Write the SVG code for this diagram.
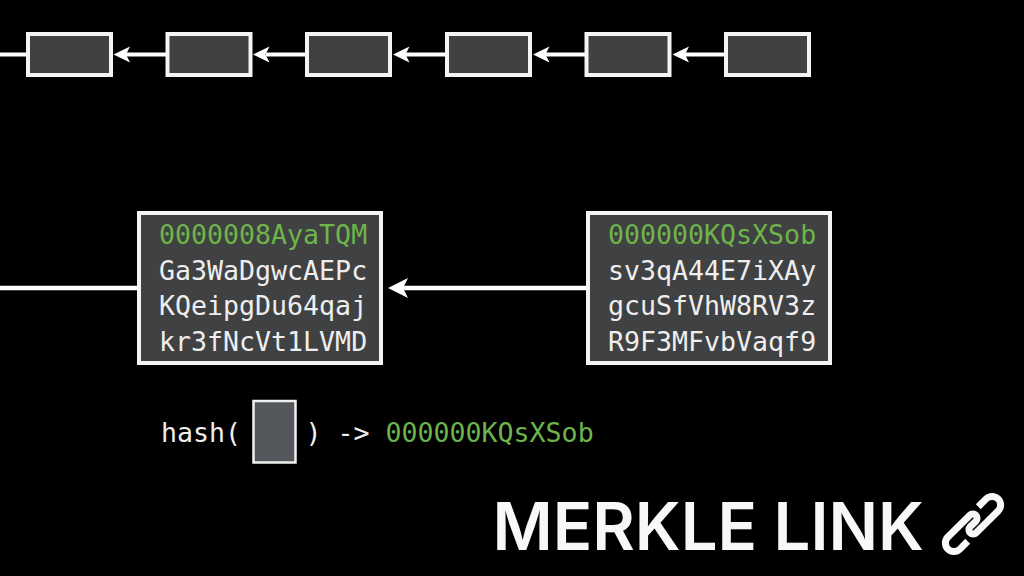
<svg xmlns="http://www.w3.org/2000/svg" width="1024" height="576" viewBox="0 0 1024 576">
<style>
.b{fill:#404142;stroke:#f4f4f4;stroke-width:4}
.l{fill:none;stroke:#fff;stroke-linecap:butt}
.m{font-family:"DejaVu Sans Mono",monospace;font-size:26.6px;fill:#eeeeee}
.g{fill:#6db54a}
.a{fill:#fff}
</style>
<rect width="1024" height="576" fill="#000"/>
<g id="connectors">
<path class="l" stroke-width="4" d="M0 54.500H27M126 54.500H167M266 54.500H306M405 54.500H446M545 54.500H585M685 54.500H725"/>
<g class="a">
<path d="M113.500 54.500L130 46.500L126 54.500L130 62.500Z"/>
<path d="M253 54.500L269.500 46.500L265.500 54.500L269.500 62.500Z"/>
<path d="M393 54.500L409.500 46.500L405.500 54.500L409.500 62.500Z"/>
<path d="M533 54.500L549.500 46.500L545.500 54.500L549.500 62.500Z"/>
<path d="M672.500 54.500L689 46.500L685 54.500L689 62.500Z"/>
</g>
<path class="l" stroke-width="4.500" d="M0 288H139M402 288H587"/>
<path class="a" d="M388 288L408 278L403 288L408 298Z"/>
</g>
<g id="n1"><rect class="b" x="28" y="34" width="83" height="41"/></g>
<g id="n2"><rect class="b" x="167.500" y="34" width="83" height="41"/></g>
<g id="n3"><rect class="b" x="307" y="34" width="83" height="41"/></g>
<g id="n4"><rect class="b" x="447" y="34" width="83" height="41"/></g>
<g id="n5"><rect class="b" x="586.500" y="34" width="83" height="41"/></g>
<g id="n6"><rect class="b" x="726" y="34" width="83" height="41"/></g>
<g id="block1">
<rect class="b" x="139" y="213" width="242" height="150"/>
<text class="m g" x="159" y="243.500">0000008AyaTQM</text>
<text class="m" x="159" y="279.500">Ga3WaDgwcAEPc</text>
<text class="m" x="159" y="314.500">KQeipgDu64qaj</text>
<text class="m" x="159" y="350.500">kr3fNcVt1LVMD</text>
</g>
<g id="block2">
<rect class="b" x="588" y="213" width="242" height="150"/>
<text class="m g" x="608" y="243.500">000000KQsXSob</text>
<text class="m" x="608" y="279.500">sv3qA44E7iXAy</text>
<text class="m" x="608" y="314.500">gcuSfVhW8RV3z</text>
<text class="m" x="608" y="350.500">R9F3MFvbVaqf9</text>
</g>
<g id="hash">
<text class="m" x="161" y="441.500">hash(</text>
<rect x="253.500" y="401" width="42" height="61.500" fill="#54575c" stroke="#f0f0f0" stroke-width="2.500"/>
<text class="m" x="305.500" y="441.500">) -&gt; <tspan class="g" x="385.500">000000KQsXSob</tspan></text>
</g>
<g id="title">
<text x="492.500" y="550" font-family="Inter,Liberation Sans,sans-serif" font-weight="600" font-size="66" fill="#f8f8f8" textLength="431.500" lengthAdjust="spacingAndGlyphs">MERKLE LINK</text>
<path fill="none" stroke="#f8f8f8" stroke-width="7" transform="translate(973 524) rotate(-45)" d="M-16 8.500H-27A8.500 8.500 0 0 1 -27 -8.500H4A4.250 4.250 0 0 1 4 0H-4A4.250 4.250 0 0 0 -4 8.500H27A8.500 8.500 0 0 0 27 -8.500H16"/>
</g>
</svg>
